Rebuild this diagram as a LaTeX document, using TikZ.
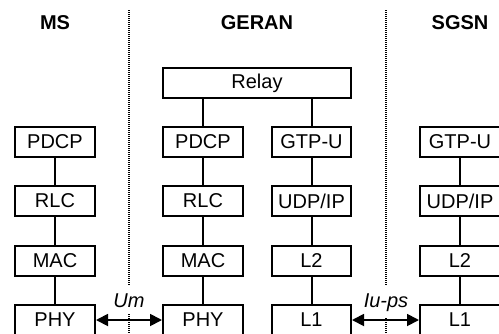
\documentclass[tikz,border=0pt]{standalone}
\usepackage{fontspec}
\setmainfont{Liberation Sans}
\usetikzlibrary{arrows.meta}
\begin{document}
\begin{tikzpicture}[x=1pt,y=-1pt,
  layer/.style={draw,line width=2pt,minimum width=80pt,minimum height=30pt,inner sep=0pt,font=\fontsize{20}{22}\selectfont},
  title/.style={font=\bfseries\fontsize{20}{22}\selectfont},
  link/.style={line width=2pt},
  iface/.style={line width=1.8pt,{Triangle[length=12pt,width=12pt]}-{Triangle[length=12pt,width=12pt]}},
  sep/.style={line width=1.3pt,dash pattern=on 1pt off 1pt},
  lbl/.style={fill=white,inner xsep=1pt,inner ysep=7pt,anchor=base,font=\itshape\fontsize{20}{22}\selectfont}]
\useasboundingbox (0,0) rectangle (499,333);
\clip (0,0) rectangle (499,333);
% separators
\coordinate (s1t) at (129,10); \coordinate (s1b) at (129,340);
\coordinate (s2t) at (386,10); \coordinate (s2b) at (386,340);
\draw[sep] (s1t) -- (s1b);
\draw[sep] (s2t) -- (s2b);
% titles
\node[title,anchor=base] (tms) at (55,29) {MS};
\node[title,anchor=base] (tge) at (257,29) {GERAN};
\node[title,anchor=base] (tsg) at (460,29) {SGSN};
% MS
\node[layer] (mpdcp) at (55,142) {PDCP};
\node[layer] (mrlc) at (55,201) {RLC};
\node[layer] (mmac) at (55,261) {MAC};
\node[layer] (mphy) at (55,320) {PHY};
% GERAN
\node[layer,minimum width=188pt] (relay) at (257,83) {Relay};
\node[layer] (gpdcp) at (203,142) {PDCP};
\node[layer] (grlc) at (203,201) {RLC};
\node[layer] (gmac) at (203,261) {MAC};
\node[layer] (gphy) at (203,320) {PHY};
\node[layer,minimum width=79pt] (ggtp) at (311.5,142) {GTP-U};
\node[layer,minimum width=79pt] (gudp) at (311.5,201) {UDP/IP};
\node[layer,minimum width=79pt] (gl2) at (311.5,261) {L2};
\node[layer,minimum width=79pt] (gl1) at (311.5,320) {L1};
% SGSN
\node[layer] (sgtp) at (460,142) {GTP-U};
\node[layer] (sudp) at (460,201) {UDP/IP};
\node[layer] (sl2) at (460,261) {L2};
\node[layer] (sl1) at (460,320) {L1};
% links
\draw[link] (mpdcp) -- (mrlc) (mrlc) -- (mmac) (mmac) -- (mphy);
\draw[link] (gpdcp) -- (grlc) (grlc) -- (gmac) (gmac) -- (gphy);
\draw[link] ([xshift=0.5pt]ggtp.south) -- ([xshift=0.5pt]gudp.north) ([xshift=0.5pt]gudp.south) -- ([xshift=0.5pt]gl2.north) ([xshift=0.5pt]gl2.south) -- ([xshift=0.5pt]gl1.north);
\draw[link] (sgtp) -- (sudp) (sudp) -- (sl2) (sl2) -- (sl1);
\draw[link] (relay.south -| gpdcp.north) -- (gpdcp.north);
\draw[link] ([xshift=0.5pt]relay.south -| ggtp.north) -- ([xshift=0.5pt]ggtp.north);
% interfaces
\node[lbl] (um) at (129,307) {Um};
\node[lbl] (iu) at (386,307) {Iu-ps};
\draw[iface] (mphy.east) -- (gphy.west);
\draw[iface] (gl1.east) -- (sl1.west);
\end{tikzpicture}
\end{document}
